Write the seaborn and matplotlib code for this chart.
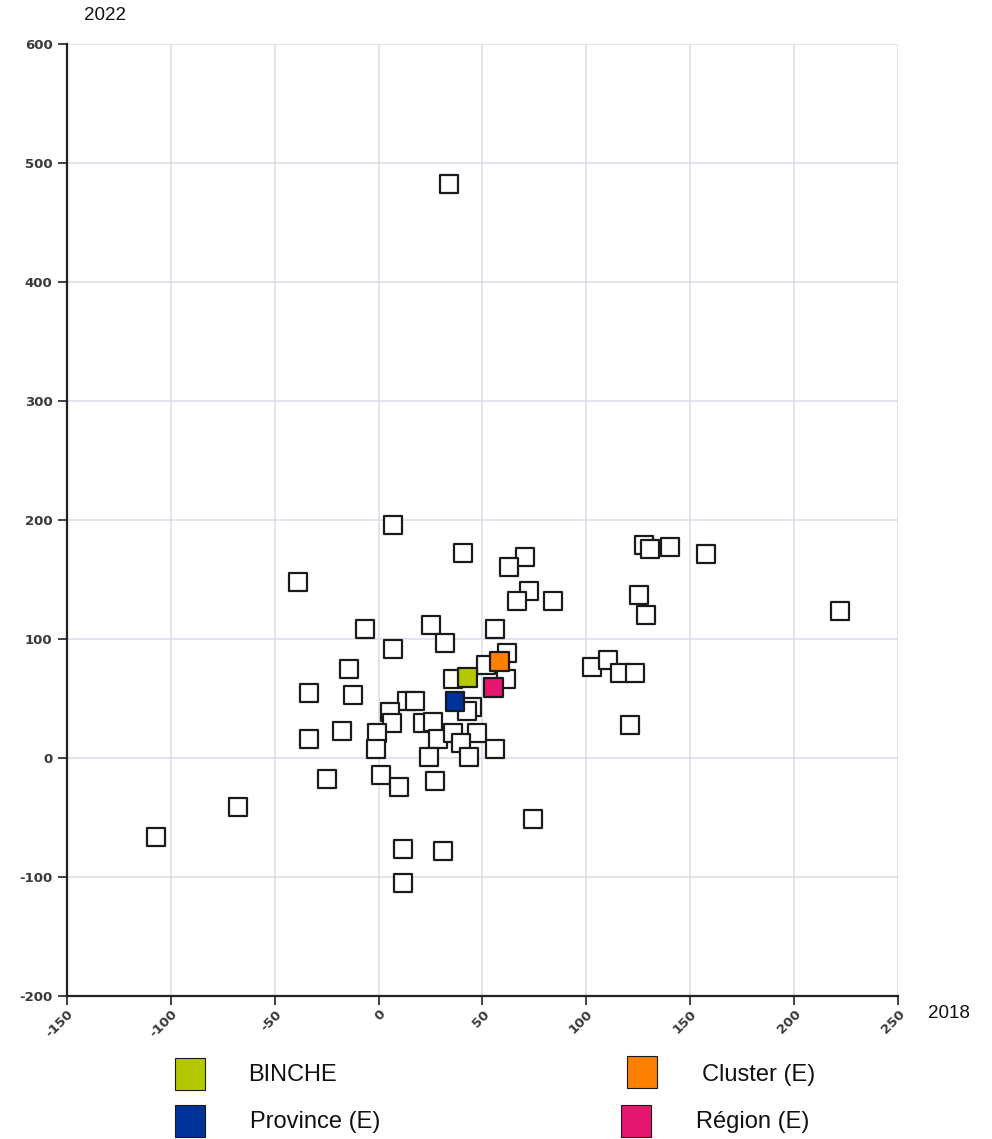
import matplotlib
matplotlib.use("Agg")
import matplotlib.pyplot as plt
from matplotlib.patches import Rectangle
import seaborn as sns
import pandas as pd

# Communes: change 2018 (x) vs change 2022 (y)
communes_2018 = [33.9, 6.9, 40.6, 70.5, 62.8, -38.8, 72.4, 66.6, 83.9, 127.7,
                 130.6, 140.3, 157.6, 125.3, 128.7, 222.1, 102.7, 110.4, 116.2, 123.4,
                 121.0, -6.6, 25.2, 31.9, 56.2, 7.1, 61.9, 51.5, -14.3, 36.0,
                 61.2, -33.5, -12.3, 44.8, 42.5, 13.8, 17.7, 5.5, 6.3, 21.5,
                 26.3, -0.6, -17.5, -33.5, -1.4, 28.7, 36.0, 47.2, 39.5, 24.4,
                 43.6, 56.0, -25.0, 1.1, 9.8, 27.1, 74.3, -107.2, -67.7, 11.7,
                 31.0, 11.7]
communes_2022 = [482.0, 196.0, 172.0, 169.0, 160.5, 148.0, 140.0, 132.0, 132.0, 179.0,
                 175.6, 177.3, 171.4, 137.0, 120.2, 123.5, 76.5, 82.4, 71.4, 71.4,
                 27.7, 108.4, 111.8, 96.9, 108.4, 91.6, 88.5, 78.2, 74.8, 66.4,
                 66.4, 54.4, 52.9, 43.1, 39.5, 47.6, 47.6, 38.9, 29.1, 29.1,
                 30.5, 20.8, 22.7, 16.0, 7.5, 15.7, 20.8, 20.8, 12.3, 0.7,
                 0.7, 7.6, -17.6, -14.3, -24.6, -19.1, -51.3, -66.4, -41.2, -76.5,
                 -78.2, -105.0]

# Reference entities
ref_names = ["BINCHE", "Cluster (E)", "Province (E)", "Région (E)"]
ref_2018 = [42.7, 58.1, 36.8, 55.2]
ref_2022 = [67.8, 81.2, 47.6, 59.4]
ref_colors = ["#b4c800", "#ff7f00", "#003399", "#e5176e"]

x_ticks = [-150, -100, -50, 0, 50, 100, 150, 200, 250]
y_ticks = [-200, -100, 0, 100, 200, 300, 400, 500, 600]

sns.set_theme(style="white")
plt.rcParams["font.family"] = ["Liberation Sans", "DejaVu Sans"]

fig = plt.figure(figsize=(9.92, 11.39), dpi=100)
ax = fig.add_axes([67 / 992, 1 - 996 / 1139, (898 - 67) / 992, (996 - 44) / 1139])

communes = pd.DataFrame({"x2018": communes_2018, "y2022": communes_2022})
refs = pd.DataFrame({"x2018": ref_2018, "y2022": ref_2022, "name": ref_names})

sns.scatterplot(data=communes, x="x2018", y="y2022", marker="s", s=180,
                color="white", edgecolor="#1a1a1a", linewidth=1.6, ax=ax,
                zorder=3, legend=False)
sns.scatterplot(data=refs, x="x2018", y="y2022", hue="name",
                palette=dict(zip(ref_names, ref_colors)), marker="s", s=180,
                edgecolor="#1a1a1a", linewidth=1.6, ax=ax, zorder=4, legend=False)

ax.set_xlim(-150, 250)
ax.set_ylim(-200, 600)
ax.set_xticks(x_ticks)
ax.set_yticks(y_ticks)
tick_font = dict(family="DejaVu Sans", weight="bold", size=9.5, color="#3a3a3a")
ax.set_xticklabels([str(v) for v in x_ticks], rotation=45, ha="right", va="top",
                   rotation_mode="anchor", **tick_font)
ax.set_yticklabels([str(v) for v in y_ticks], **tick_font)
ax.set_xlabel("")
ax.set_ylabel("")

ax.grid(True, color="#dcdcea", linewidth=1.1, zorder=0)
ax.set_axisbelow(True)
for side in ["top", "right"]:
    ax.spines[side].set_visible(False)
for side in ["left", "bottom"]:
    ax.spines[side].set_color("#222222")
    ax.spines[side].set_linewidth(1.6)
    ax.spines[side].set_zorder(5)
ax.tick_params(axis="both", which="both", direction="out", length=6.5, width=1.2,
               color="#222222", left=True, bottom=True, pad=4)
ax.tick_params(axis="x", pad=2)

# Axis titles
fig.text(105 / 992, 1 - 16 / 1139, "2022", fontsize=13.5, ha="center", va="center",
         color="#111111")
fig.text(949 / 992, 1 - 1014 / 1139, "2018", fontsize=13.5, ha="center", va="center",
         color="#111111")

# Legend below the plot
swatch_centers = [(190, 1074), (642, 1072), (190, 1121), (636, 1121)]
label_pos = [(248, 1075), (702, 1075), (250, 1122), (696, 1122)]
sw_w, sw_h = 30, 32
for name, color, (cx, cy), (tx, ty) in zip(ref_names, ref_colors, swatch_centers, label_pos):
    fig.add_artist(Rectangle(((cx - sw_w / 2) / 992, 1 - (cy + sw_h / 2) / 1139),
                             sw_w / 992, sw_h / 1139, transform=fig.transFigure,
                             facecolor=color, edgecolor="#1a1a1a", linewidth=0.8))
    fig.text(tx / 992, 1 - ty / 1139, name, fontsize=17, ha="left", va="center",
             color="#111111")

fig.savefig("out.png", dpi=100)
